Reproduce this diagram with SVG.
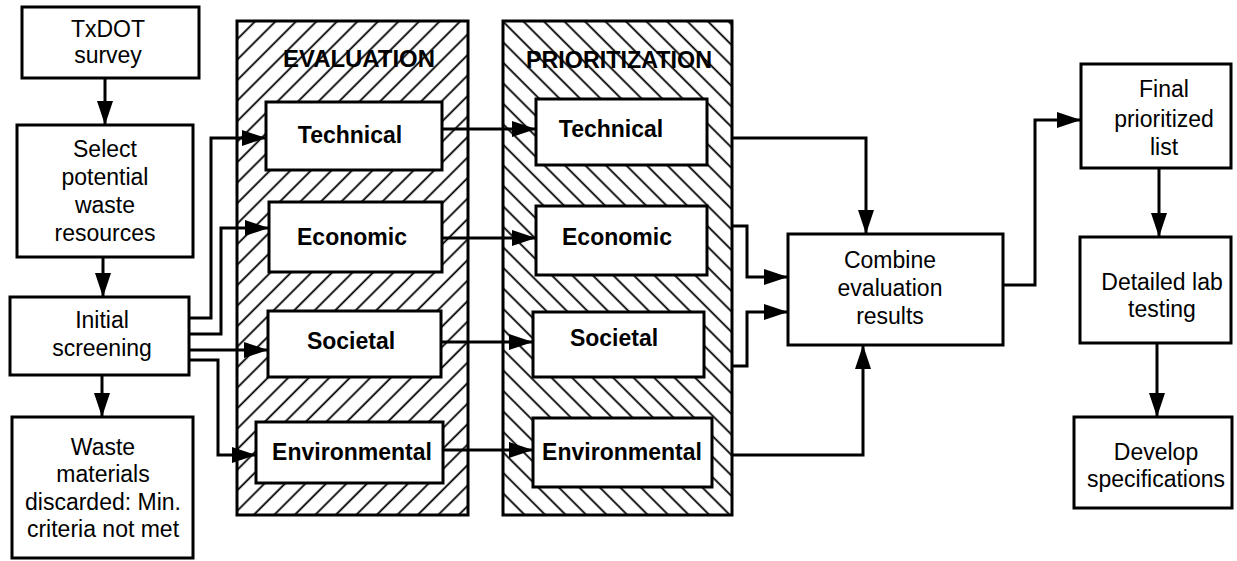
<svg xmlns="http://www.w3.org/2000/svg" width="1237" height="561" viewBox="0 0 1237 561">
<defs>
<pattern id="hatchEval" width="14.5" height="14.5" patternUnits="userSpaceOnUse" patternTransform="rotate(45)"><line x1="7" y1="0" x2="7" y2="14.5" stroke="#000" stroke-width="1.8"/></pattern>
<pattern id="hatchPrio" width="14.5" height="14.5" patternUnits="userSpaceOnUse" patternTransform="rotate(-45)"><line x1="7" y1="0" x2="7" y2="14.5" stroke="#000" stroke-width="1.8"/></pattern>
<marker id="arr" markerUnits="userSpaceOnUse" markerWidth="26" markerHeight="18" refX="24" refY="8" orient="auto"><path d="M0,0 L24,8 L0,16 z" fill="#000"/></marker>
</defs>
<style>
.box{fill:#fff;stroke:#000;stroke-width:3}
.panel{stroke:#000;stroke-width:3}
.t{font-family:"Liberation Sans",Arial,sans-serif;font-size:23px;fill:#000;text-anchor:middle}
.b{font-family:"Liberation Sans",Arial,sans-serif;font-size:23px;font-weight:bold;fill:#000;text-anchor:middle}
.c{fill:none;stroke:#000;stroke-width:3;marker-end:url(#arr)}
</style>
<rect width="1237" height="561" fill="#fff"/>

<g id="panel-evaluation">
<rect class="panel" x="237" y="21" width="231" height="494" fill="url(#hatchEval)"/>
<text class="b" x="359" y="67" textLength="152" lengthAdjust="spacingAndGlyphs">EVALUATION</text>
</g>
<g id="panel-prioritization">
<rect class="panel" x="503" y="21" width="229" height="494" fill="url(#hatchPrio)"/>
<text class="b" x="619" y="68" textLength="186" lengthAdjust="spacingAndGlyphs">PRIORITIZATION</text>
</g>

<g id="connectors">
<path class="c" d="M105,78 V125"/>
<path class="c" d="M103,257 V297"/>
<path class="c" d="M102,375 V417"/>
<path class="c" d="M189,318 H211 V138 H266"/>
<path class="c" d="M189,334 H221 V228 H269"/>
<path class="c" d="M189,350 H268"/>
<path class="c" d="M189,360 H218 V455 H256"/>
<path class="c" d="M442,129 H536"/>
<path class="c" d="M442,238 H536"/>
<path class="c" d="M441,342 H533"/>
<path class="c" d="M443,450 H533"/>
<path class="c" d="M732,138 H866 V234"/>
<path class="c" d="M732,226 H747 V277 H788"/>
<path class="c" d="M732,366 H747 V312 H788"/>
<path class="c" d="M732,455 H863 V345"/>
<path class="c" d="M1003,285 H1035 V120 H1081"/>
<path class="c" d="M1159,168 V237"/>
<path class="c" d="M1157,343 V417"/>
</g>

<g id="txdot-survey">
<rect class="box" x="22" y="7" width="177" height="71"/>
<text class="t" x="108" y="37">TxDOT</text>
<text class="t" x="108" y="63">survey</text>
</g>
<g id="select-resources">
<rect class="box" x="17" y="125" width="176" height="132"/>
<text class="t" x="105" y="157">Select</text>
<text class="t" x="105" y="185">potential</text>
<text class="t" x="105" y="213">waste</text>
<text class="t" x="105" y="241">resources</text>
</g>
<g id="initial-screening">
<rect class="box" x="10" y="297" width="179" height="78"/>
<text class="t" x="102" y="328">Initial</text>
<text class="t" x="102" y="356">screening</text>
</g>
<g id="waste-discarded">
<rect class="box" x="12" y="417" width="181" height="141"/>
<text class="t" x="103" y="455">Waste</text>
<text class="t" x="103" y="482">materials</text>
<text class="t" x="103" y="510">discarded: Min.</text>
<text class="t" x="103" y="537">criteria not met</text>
</g>

<g id="eval-technical">
<rect class="box" x="266" y="102" width="176" height="68"/>
<text class="b" x="350" y="143">Technical</text>
</g>
<g id="eval-economic">
<rect class="box" x="269" y="202" width="173" height="70"/>
<text class="b" x="352" y="245">Economic</text>
</g>
<g id="eval-societal">
<rect class="box" x="268" y="311" width="173" height="66"/>
<text class="b" x="351" y="349">Societal</text>
</g>
<g id="eval-environmental">
<rect class="box" x="256" y="422" width="187" height="61"/>
<text class="b" x="352" y="460">Environmental</text>
</g>

<g id="prio-technical">
<rect class="box" x="536" y="99" width="171" height="66"/>
<text class="b" x="611" y="137">Technical</text>
</g>
<g id="prio-economic">
<rect class="box" x="536" y="206" width="171" height="69"/>
<text class="b" x="617" y="245">Economic</text>
</g>
<g id="prio-societal">
<rect class="box" x="533" y="312" width="171" height="65"/>
<text class="b" x="614" y="346">Societal</text>
</g>
<g id="prio-environmental">
<rect class="box" x="533" y="418" width="179" height="69"/>
<text class="b" x="622" y="460">Environmental</text>
</g>

<g id="combine-results">
<rect class="box" x="788" y="234" width="215" height="111"/>
<text class="t" x="890" y="268">Combine</text>
<text class="t" x="890" y="296">evaluation</text>
<text class="t" x="890" y="324">results</text>
</g>
<g id="final-list">
<rect class="box" x="1081" y="64" width="150" height="104"/>
<text class="t" x="1164" y="97">Final</text>
<text class="t" x="1164" y="127">prioritized</text>
<text class="t" x="1164" y="155">list</text>
</g>
<g id="lab-testing">
<rect class="box" x="1080" y="237" width="151" height="106"/>
<text class="t" x="1162" y="290">Detailed lab</text>
<text class="t" x="1162" y="317">testing</text>
</g>
<g id="develop-specs">
<rect class="box" x="1074" y="417" width="158" height="91"/>
<text class="t" x="1156" y="460">Develop</text>
<text class="t" x="1156" y="487">specifications</text>
</g>
</svg>
